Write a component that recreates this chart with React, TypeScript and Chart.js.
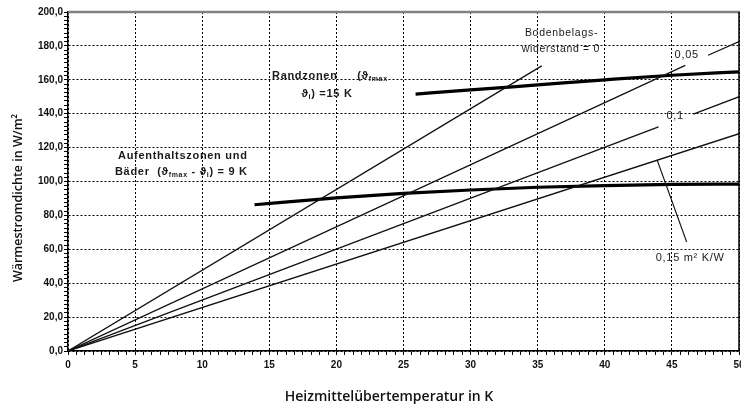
import React, { useEffect, useRef } from 'react';
import { Chart, registerables } from 'chart.js';

Chart.register(...registerables);

// ---- data ----
const xMin = 0;
const xMax = 50;
const yMin = 0;
const yMax = 200;
const xMajorStep = 5;
const yMajorStep = 20;

// Bodenbelagswiderstand R = 0
const r000X = [0, 35.3];
const r000Y = [0, 168.2];
// R = 0,05 (gap for its label)
const r005X = [0, 46.0, 46.8, 47.7, 50];
const r005Y = [0, 168.5, null, 174.5, 182.5];
// R = 0,1 (gap for its label)
const r010X = [0, 44.0, 45.3, 46.6, 50.1];
const r010Y = [0, 132.2, null, 139.8, 150.3];
// R = 0,15 m² K/W
const r015X = [0, 50];
const r015Y = [0, 128.2];
// leader line of the 0,15 label
const lead015X = [43.9, 46.1];
const lead015Y = [112.7, 64.3];
// Aufenthaltszonen und Bäder (9 K)
const zone9X = [13.9, 20, 25, 30, 35, 40, 45, 50];
const zone9Y = [86.3, 90.3, 93.0, 95.0, 96.6, 97.6, 98.3, 98.5];
// Randzonen (15 K)
const zone15X = [25.9, 30, 35, 40, 45, 50];
const zone15Y = [151.6, 154.0, 157.0, 160.0, 162.7, 164.7];

const xTitle = 'Heizmittelübertemperatur in K';
const yTitle = 'Wärmestromdichte in W/m²';

type Run = { t: string; sub?: boolean };
type Label = { x: number; y: number; runs: Run[]; bold?: boolean; size: number; align?: 'left' | 'right' };

const labels: Label[] = [
  { x: 15.2, y: 162.0, runs: [{ t: 'Randzonen' }], bold: true, size: 11 },
  { x: 21.55, y: 162.0, runs: [{ t: '(ϑ' }, { t: 'fmax', sub: true }], bold: true, size: 11 },
  { x: 17.4, y: 151.6, runs: [{ t: 'ϑ' }, { t: 'i', sub: true }, { t: ') =15 K' }], bold: true, size: 11 },
  { x: 3.73, y: 115.0, runs: [{ t: 'Aufenthaltszonen und' }], bold: true, size: 11 },
  { x: 3.5, y: 105.6, runs: [{ t: 'Bäder  (ϑ' }, { t: 'fmax', sub: true }, { t: ' - ϑ' }, { t: 'i', sub: true }, { t: ') = 9 K' }], bold: true, size: 11 },
  { x: 39.5, y: 187.6, runs: [{ t: 'Bodenbelags-' }], size: 10.5, align: 'right' },
  { x: 39.65, y: 178.2, runs: [{ t: 'widerstand = 0' }], size: 10.5, align: 'right' },
  { x: 45.2, y: 174.6, runs: [{ t: '0,05' }], size: 11 },
  { x: 44.6, y: 138.6, runs: [{ t: '0,1' }], size: 11 },
  { x: 43.8, y: 54.9, runs: [{ t: '0,15 m² K/W' }], size: 11 },
];

const toPts = (xs: number[], ys: (number | null)[]) => xs.map((x, i) => ({ x, y: ys[i] }));

const isMajor = (v: number, step: number) => Math.abs(v / step - Math.round(v / step)) < 1e-6;

const LABEL_FONT = '"Liberation Sans", Arial, sans-serif';

function drawRuns(ctx: CanvasRenderingContext2D, lab: Label, px: number, py: number) {
  const weight = lab.bold ? 'bold ' : '';
  const fontMain = `${weight}${lab.size}px ${LABEL_FONT}`;
  const fontSub = `${weight}${Math.round(lab.size * 0.65)}px ${LABEL_FONT}`;
  (ctx as any).letterSpacing = '0.7px';
  let total = 0;
  for (const r of lab.runs) {
    ctx.font = r.sub ? fontSub : fontMain;
    total += ctx.measureText(r.t).width;
  }
  let x = lab.align === 'right' ? px - total : px;
  ctx.textBaseline = 'middle';
  ctx.textAlign = 'left';
  for (const r of lab.runs) {
    ctx.font = r.sub ? fontSub : fontMain;
    ctx.fillText(r.t, x, r.sub ? py + 3 : py);
    x += ctx.measureText(r.t).width;
  }
  (ctx as any).letterSpacing = '0px';
}

const decorPlugin = {
  id: 'decor',
  afterDatasetsDraw(chart: any) {
    const { ctx, chartArea, scales } = chart;
    ctx.save();
    // frame: grey top line, black right line
    ctx.strokeStyle = '#808080';
    ctx.lineWidth = 2.5;
    ctx.beginPath();
    ctx.moveTo(chartArea.left, chartArea.top);
    ctx.lineTo(chartArea.right + 1, chartArea.top);
    ctx.stroke();
    ctx.strokeStyle = '#000';
    ctx.lineWidth = 1.5;
    ctx.beginPath();
    ctx.moveTo(chartArea.right, chartArea.top);
    ctx.lineTo(chartArea.right, chartArea.bottom);
    ctx.stroke();

    ctx.fillStyle = '#1a1a1a';
    for (const lab of labels) {
      const px = scales.x.getPixelForValue(lab.x);
      const py = scales.y.getPixelForValue(lab.y);
      drawRuns(ctx, lab, px, py);
    }

    // axis titles
    ctx.fillStyle = '#111';
    ctx.font = '600 14px "Open Sans", sans-serif';
    ctx.textAlign = 'center';
    ctx.textBaseline = 'middle';
    ctx.fillText(xTitle, 389, 397);
    ctx.save();
    ctx.translate(18, 198);
    ctx.rotate(-Math.PI / 2);
    ctx.font = '600 12.5px "Open Sans", sans-serif';
    ctx.fillText(yTitle, 0, 0);
    ctx.restore();
    ctx.restore();
  },
};

export default function App() {
  const ref = useRef<HTMLCanvasElement | null>(null);

  useEffect(() => {
    if (!ref.current) return;
    const thin = { borderColor: '#111', borderWidth: 1.3, pointRadius: 0, tension: 0, spanGaps: false, fill: false };
    const thick = { borderColor: '#000', borderWidth: 3.2, pointRadius: 0, cubicInterpolationMode: 'monotone', fill: false };
    const chart = new Chart(ref.current, {
      type: 'line',
      data: {
        datasets: [
          { label: 'R 0', data: toPts(r000X, r000Y), ...thin },
          { label: 'R 0,05', data: toPts(r005X, r005Y), ...thin },
          { label: 'R 0,1', data: toPts(r010X, r010Y), ...thin },
          { label: 'R 0,15', data: toPts(r015X, r015Y), ...thin },
          { label: 'lead', data: toPts(lead015X, lead015Y), ...thin, borderWidth: 1.1 },
          { label: '9 K', data: toPts(zone9X, zone9Y), ...thick },
          { label: '15 K', data: toPts(zone15X, zone15Y), ...thick },
        ] as any,
      },
      options: {
        responsive: false,
        animation: false,
        layout: { padding: { top: 12, right: 2, left: 0, bottom: 0 } },
        plugins: { legend: { display: false }, tooltip: { enabled: false } },
        scales: {
          x: {
            type: 'linear',
            min: xMin,
            max: xMax,
            afterFit: (s: any) => { s.height = 60; s.paddingLeft = 0; s.paddingRight = 0; },
            ticks: {
              stepSize: xMajorStep / 8,
              autoSkip: false,
              maxRotation: 0,
              padding: 4,
              color: '#111',
              font: { family: LABEL_FONT, size: 10, weight: 'bold' },
              callback: (v: any) => (isMajor(Number(v), xMajorStep) ? String(Math.round(Number(v))) : ''),
            },
            grid: {
              color: (c: any) => (c.tick && isMajor(c.tick.value, xMajorStep) ? '#000' : 'rgba(0,0,0,0)'),
              tickColor: '#000',
              tickLength: 4,
              lineWidth: 1,
            },
            border: { display: true, color: '#000', width: 1.5, dash: [2, 2] },
          },
          y: {
            type: 'linear',
            min: yMin,
            max: yMax,
            afterFit: (s: any) => { s.width = 68; s.paddingTop = 0; s.paddingBottom = 0; },
            ticks: {
              stepSize: yMajorStep / 8,
              autoSkip: false,
              padding: 1,
              color: '#111',
              font: { family: LABEL_FONT, size: 10, weight: 'bold' },
              callback: (v: any) => (isMajor(Number(v), yMajorStep) ? Number(v).toFixed(1).replace('.', ',') : ''),
            },
            grid: {
              color: (c: any) => (c.tick && isMajor(c.tick.value, yMajorStep) ? '#000' : 'rgba(0,0,0,0)'),
              tickColor: '#000',
              tickLength: 4,
              lineWidth: 1,
            },
            border: { display: true, color: '#000', width: 1.5, dash: [2, 2] },
          },
        },
      } as any,
      plugins: [decorPlugin],
    });
    return () => chart.destroy();
  }, []);

  return (
    <div style={{ position: 'fixed', left: 0, top: 0, width: 741, height: 411, background: '#fff' }}>
      <canvas ref={ref} width={741} height={411} style={{ display: 'block', width: 741, height: 411 }} />
    </div>
  );
}
